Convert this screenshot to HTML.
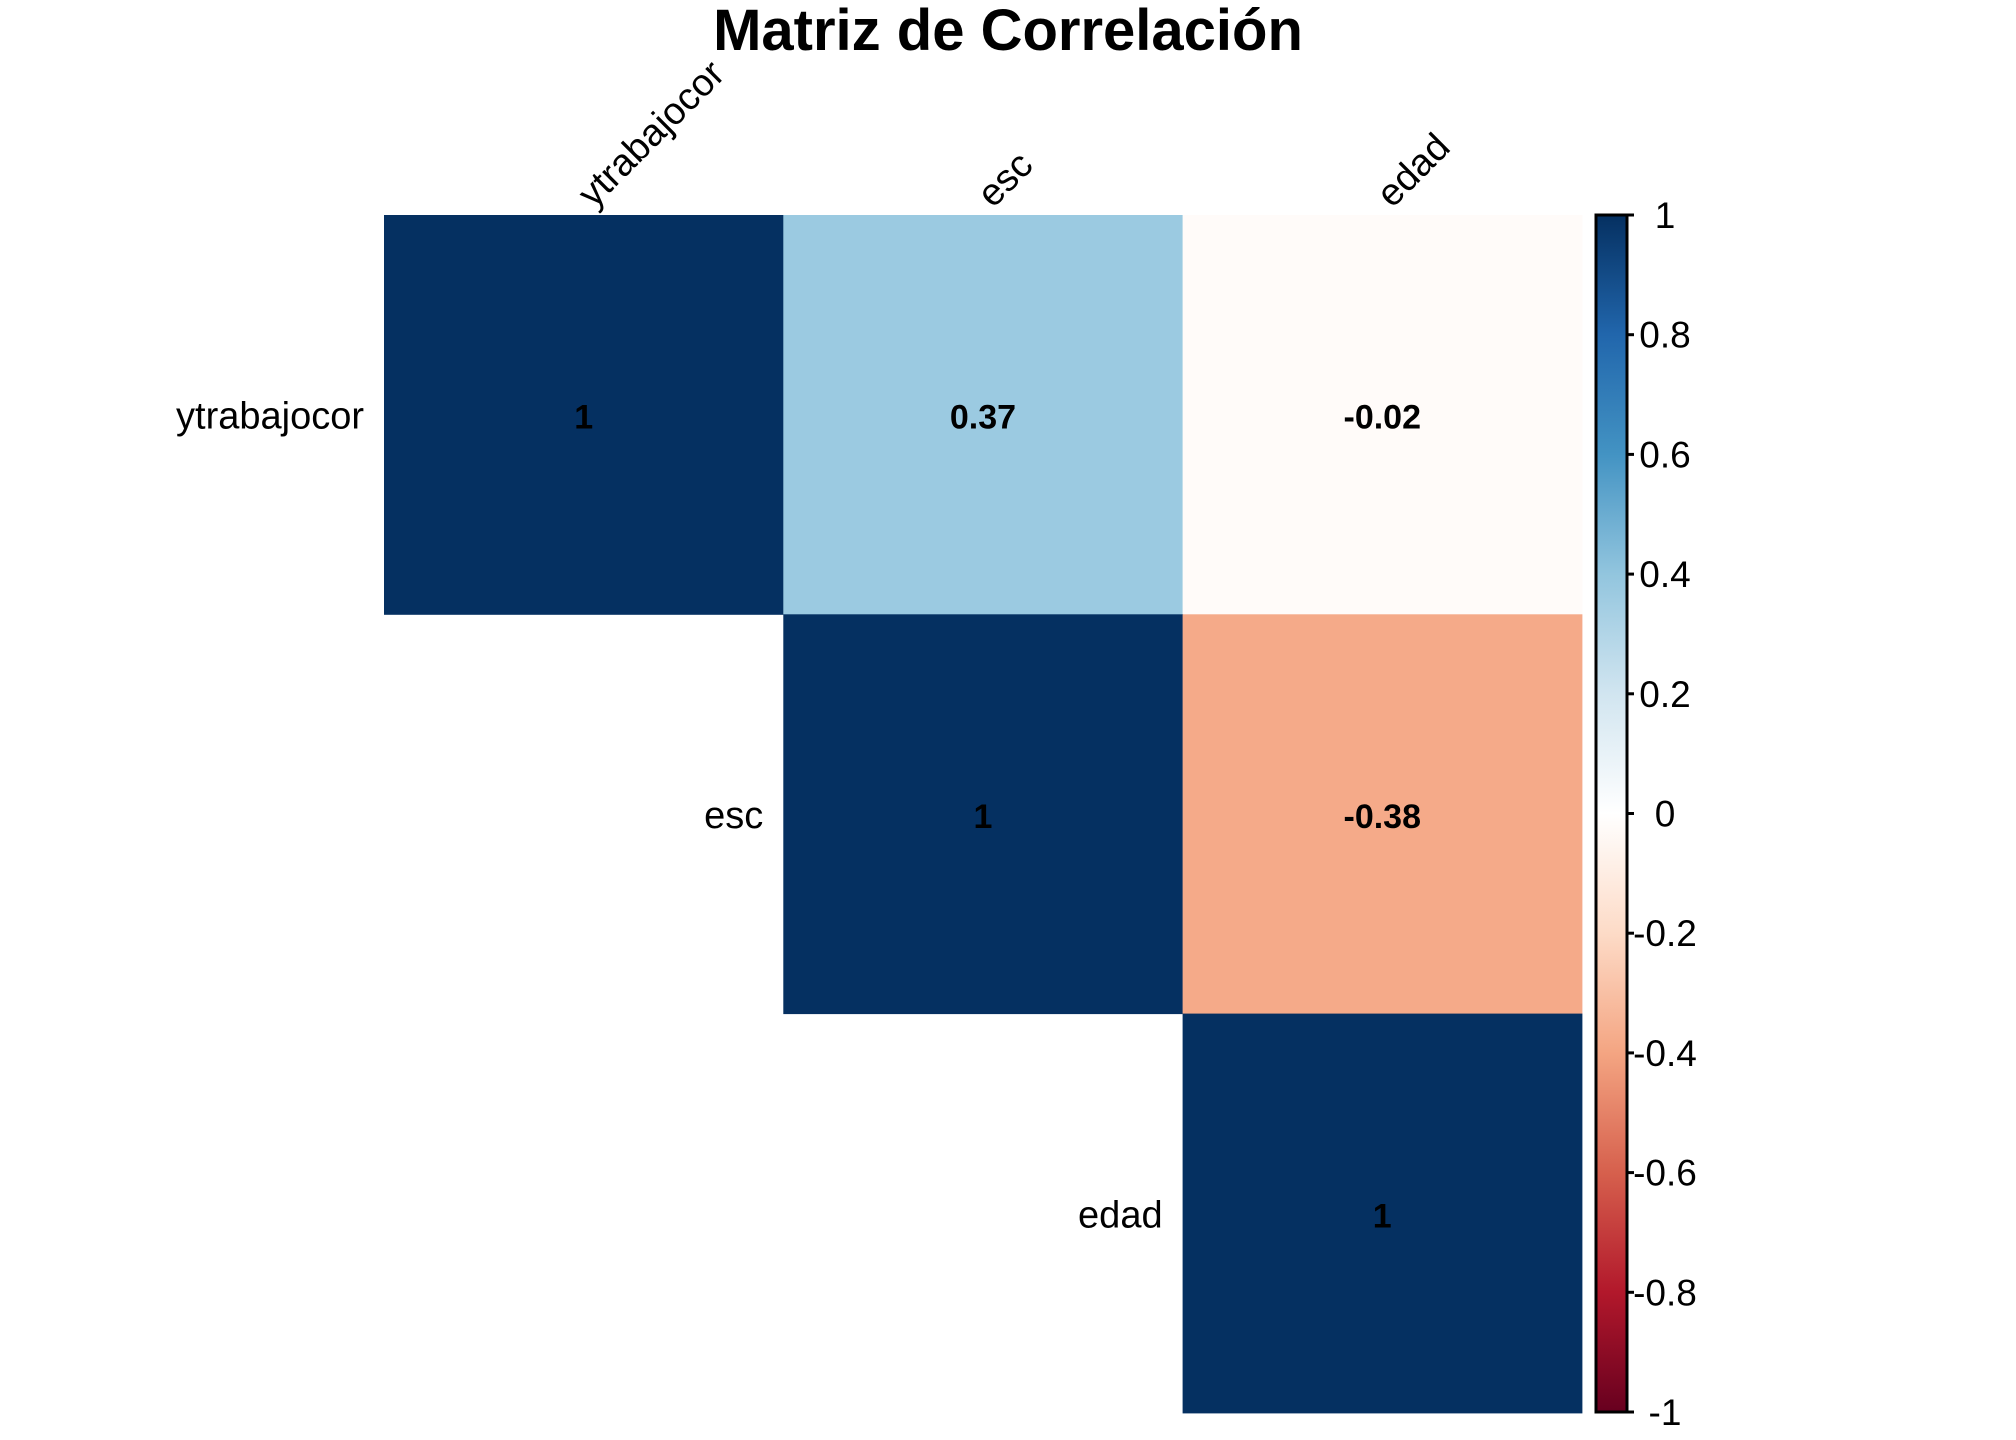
<!DOCTYPE html>
<html><head><meta charset="utf-8"><style>
html,body{margin:0;padding:0;background:#fff;}
svg{display:block;font-family:"Liberation Sans",Arial,sans-serif;}
</style></head><body>
<svg id="chart" width="2016" height="1440" viewBox="0 0 2016 1440" xmlns="http://www.w3.org/2000/svg">
<text x="1008" y="50" text-anchor="middle" font-size="58" font-weight="bold">Matriz de Correlación</text>
<g id="cells"></g>
<g id="labels"></g>
<g id="legend"></g>
</svg>
<script>
const variables = ["ytrabajocor", "esc", "edad"];
const corrValues = [
  [1, 0.37, -0.02],
  [0.37, 1, -0.38],
  [-0.02, -0.38, 1]
];
const corrLabels = [
  ["1", "0.37", "-0.02"],
  ["0.37", "1", "-0.38"],
  ["-0.02", "-0.38", "1"]
];
const legendTicks = [1, 0.8, 0.6, 0.4, 0.2, 0, -0.2, -0.4, -0.6, -0.8, -1];
const legendTickLabels = ["1", "0.8", "0.6", "0.4", "0.2", "0", "-0.2", "-0.4", "-0.6", "-0.8", "-1"];
const paletteStops = [-1, -0.8, -0.6, -0.4, -0.2, 0, 0.2, 0.4, 0.6, 0.8, 1];
const paletteColors = ["#67001F","#B2182B","#D6604D","#F4A582","#FDDBC7","#FFFFFF","#D1E5F0","#92C5DE","#4393C3","#2166AC","#053061"];

const NS = "http://www.w3.org/2000/svg";
const x0 = 384, y0 = 215, cell = 399.3;
const xPos = i => x0 + i * cell;
const yPos = i => y0 + i * cell;
const barTop = 215, barBot = 1412, barL = 1596, barR = 1627;
const barY = v => barTop + (1 - v) / 2 * (barBot - barTop);

function hex2rgb(h){return [1,3,5].map(i=>parseInt(h.substr(i,2),16));}
function colorFor(v){
  for(let k=0;k<paletteStops.length-1;k++){
    if(v>=paletteStops[k] && v<=paletteStops[k+1]){
      const t=(v-paletteStops[k])/(paletteStops[k+1]-paletteStops[k]);
      const a=hex2rgb(paletteColors[k]), b=hex2rgb(paletteColors[k+1]);
      return "rgb("+a.map((c,j)=>Math.round(c+(b[j]-c)*t)).join(",")+")";
    }
  }
  return paletteColors[paletteColors.length-1];
}
function mk(tag, attrs, parent){
  const e=document.createElementNS(NS,tag);
  for(const k in attrs) e.setAttribute(k, attrs[k]);
  parent.appendChild(e); return e;
}
const cellsG=document.getElementById("cells");
const labelsG=document.getElementById("labels");
const legendG=document.getElementById("legend");

for(let r=0;r<variables.length;r++){
  for(let c=r;c<variables.length;c++){
    const rect=mk("rect",{x:xPos(c),y:yPos(r),width:cell+0.5,height:cell+0.5,fill:colorFor(corrValues[r][c])},cellsG);
    
    
    const t=mk("text",{x:xPos(c)+cell/2,y:yPos(r)+cell/2+14,"text-anchor":"middle","font-size":"34","font-weight":"bold",fill:"#000"},cellsG);
    t.textContent=corrLabels[r][c];
    
    
  }
}
for(let i=0;i<variables.length;i++){
  const rl=mk("text",{x:xPos(i)-20,y:yPos(i)+cell/2+14,"text-anchor":"end","font-size":"38",fill:"#000"},labelsG);
  rl.textContent=variables[i];
  
  
  const cx=xPos(i)+cell/2+10, cy=y0-6;
  const cl=mk("text",{x:cx,y:cy,"text-anchor":"start","font-size":"38",fill:"#000",transform:"rotate(-45 "+cx+" "+cy+")"},labelsG);
  cl.textContent=variables[i];
  
  
}
const defs=mk("defs",{},document.getElementById("chart"));
const grad=mk("linearGradient",{id:"rdbu",x1:"0",y1:"1",x2:"0",y2:"0"},defs);
paletteStops.forEach((s,k)=>mk("stop",{offset:((s+1)/2),"stop-color":paletteColors[k]},grad));
const bar=mk("rect",{x:barL,y:barTop,width:barR-barL,height:barBot-barTop,fill:"url(#rdbu)",stroke:"#000","stroke-width":"3"},legendG);


legendTicks.forEach((v,k)=>{
  const y=barY(v);
  const tk=mk("line",{x1:barR,x2:barR+7,y1:y,y2:y,stroke:"#000","stroke-width":"3"},legendG);
  
  
  const tl=mk("text",{x:1665,y:y+13,"text-anchor":"middle","font-size":"37",fill:"#000"},legendG);
  tl.textContent=legendTickLabels[k];
  
  
});
</script>
</body></html>
